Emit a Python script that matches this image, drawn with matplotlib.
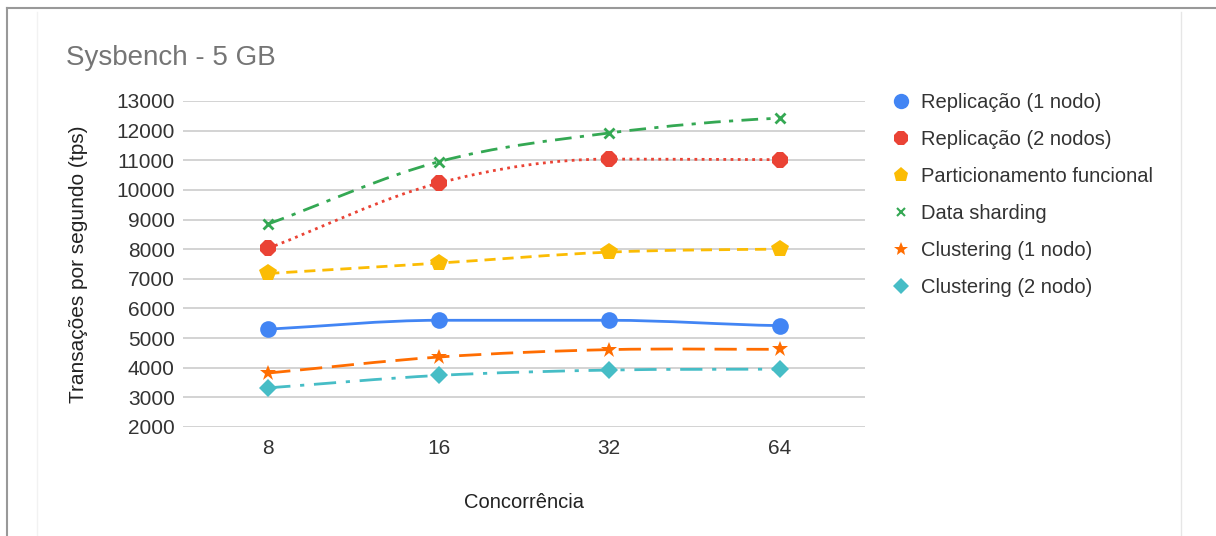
import matplotlib.pyplot as plt
from matplotlib.path import Path
from matplotlib.patches import PathPatch
from matplotlib.lines import Line2D

plt.rcParams['font.family'] = ['Liberation Sans', 'DejaVu Sans']

# Sysbench 5 GB results
concurrency = ["8", "16", "32", "64"]
replicacao_1 = [5300, 5600, 5600, 5420]
replicacao_2 = [8030, 10230, 11040, 11020]
particionamento = [7180, 7530, 7900, 8000]
sharding = [8850, 10950, 11920, 12420]
clustering_1 = [3820, 4360, 4610, 4620]
clustering_2 = [3320, 3740, 3920, 3950]

series = [
    ("Replicação (1 nodo)", replicacao_1, "#4285F4", "-", "o", 12, 13),
    ("Replicação (2 nodos)", replicacao_2, "#EA4335", (0, (1, 1.6)), "8", 12.5, 13),
    ("Particionamento funcional", particionamento, "#FBBC04", (0, (4, 2.5)), "p", 13, 13),
    ("Data sharding", sharding, "#34A853", (0, (6, 3, 1.5, 3)), "x", 7, 7),
    ("Clustering (1 nodo)", clustering_1, "#FF6D01", (0, (8, 3.5)), "*", 12, 12),
    ("Clustering (2 nodo)", clustering_2, "#46BDC6", (0, (8, 3.5, 1.5, 3.5)), "D", 9, 10),
]


def smooth_path(xs, ys):
    # monotone cubic bezier through the points
    n = len(xs)
    d = [(ys[i + 1] - ys[i]) / (xs[i + 1] - xs[i]) for i in range(n - 1)]
    m = [d[0]]
    for i in range(1, n - 1):
        m.append(0.0 if d[i - 1] * d[i] <= 0 else (d[i - 1] + d[i]) / 2)
    m.append(d[-1] * 0.5)
    verts = [(xs[0], ys[0])]
    codes = [Path.MOVETO]
    for i in range(n - 1):
        h = xs[i + 1] - xs[i]
        verts += [(xs[i] + h / 3, ys[i] + m[i] * h / 3),
                  (xs[i + 1] - h / 3, ys[i + 1] - m[i + 1] * h / 3),
                  (xs[i + 1], ys[i + 1])]
        codes += [Path.CURVE4] * 3
    return Path(verts, codes)


fig = plt.figure(figsize=(12.16, 5.36), dpi=100)
ax = fig.add_axes([0.1505, 0.2034, 0.5608, 0.6082])

xs = list(range(len(concurrency)))
handles = []
for label, vals, color, ls, mk, ms, lms in series:
    patch = PathPatch(smooth_path(xs, vals), fill=False, edgecolor=color,
                      linestyle=ls, linewidth=2, zorder=3)
    ax.add_patch(patch)
    mew = 2 if mk == "x" else 0
    ax.plot(xs, vals, linestyle="none", marker=mk, markersize=ms,
            color=color, markeredgewidth=mew, markeredgecolor=color, zorder=4)
    handles.append(Line2D([], [], linestyle="none", marker=mk, markersize=lms * 0.85,
                          color=color, markeredgewidth=1.5 if mk == "x" else 0,
                          label=label))

ax.set_xlim(-0.5, 3.5)
ax.set_ylim(2000, 13000)
ax.set_yticks(range(2000, 13001, 1000))
ax.set_xticks(xs)
ax.set_xticklabels(concurrency)
ax.grid(axis="y", color="#d0d0d0", linewidth=1.3)
ax.set_axisbelow(True)
for s in ax.spines.values():
    s.set_visible(False)
ax.tick_params(length=0, labelsize=15, colors="#333333")
ax.tick_params(axis="y", pad=6)
ax.tick_params(axis="x", pad=9)

ax.set_ylabel("Transações por segundo (tps)", fontsize=15, color="#222222", labelpad=20)
ax.set_xlabel("Concorrência", fontsize=14.5, color="#222222", labelpad=25)

fig.text(66 / 1216, 1 - 58 / 536, "Sysbench - 5 GB", fontsize=20, color="#757575",
         ha="left", va="center")

fig.legend(handles=handles, loc="upper left", bbox_to_anchor=(891 / 1216, 1 - 93 / 536),
           frameon=False, fontsize=14.5, handlelength=1.0, handletextpad=0.5,
           labelspacing=0.89, labelcolor="#333333", borderaxespad=0, borderpad=0)

# screenshot frame
fig.add_artist(Line2D([7 / 1216, 7 / 1216], [0, 1 - 8 / 536], color="#999999", linewidth=1.5))
fig.add_artist(Line2D([7 / 1216, 1], [1 - 8 / 536, 1 - 8 / 536], color="#999999", linewidth=1.5))
fig.add_artist(Line2D([1181 / 1216, 1181 / 1216], [0, 1 - 12 / 536], color="#e6e6e6", linewidth=1))
fig.add_artist(Line2D([37 / 1216, 37 / 1216], [0, 1 - 12 / 536], color="#f2f2f2", linewidth=1))

fig.savefig("out.png", dpi=100)
